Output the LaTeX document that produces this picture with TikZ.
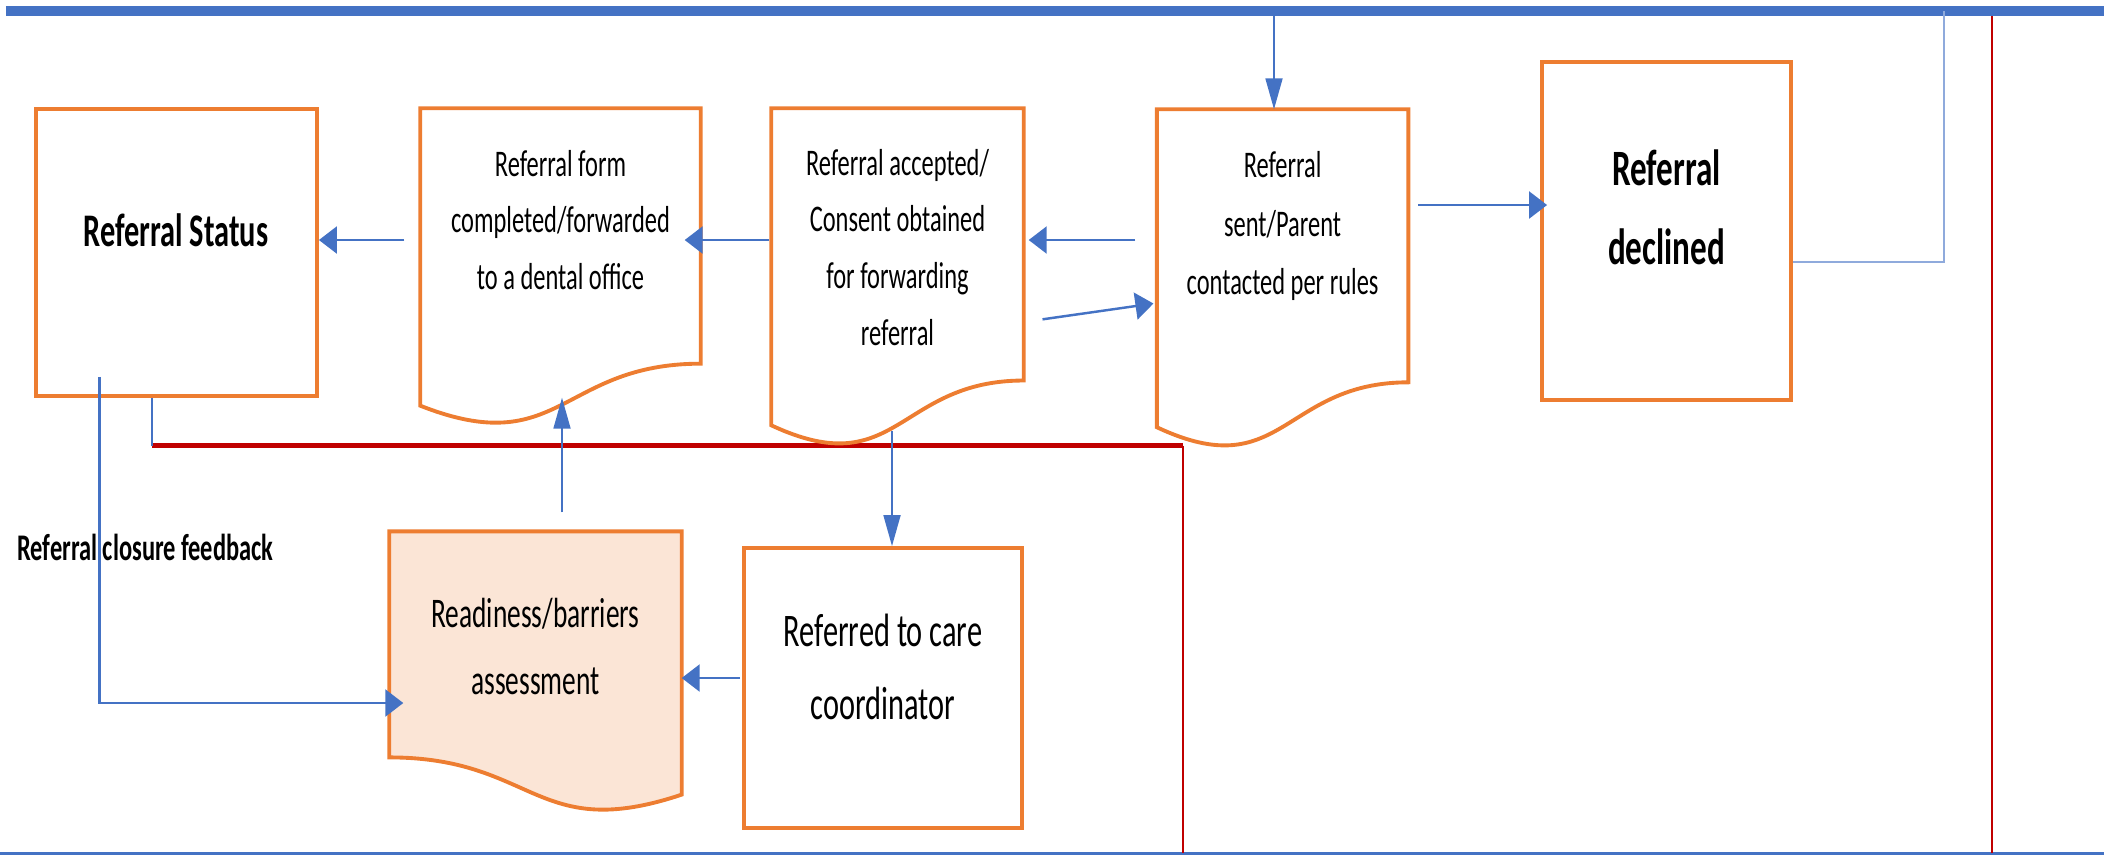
\documentclass[tikz,border=0pt]{standalone}
\usepackage{fontspec}
\setmainfont{Carlito}[FakeStretch=0.65]
\usepackage{tikz}
\usepackage{xcolor}
\usetikzlibrary{arrows.meta,calc}

\definecolor{boxorange}{HTML}{ED7D31}
\definecolor{boxpeach}{HTML}{FBE5D6}
\definecolor{flowblue}{HTML}{4472C4}
\definecolor{paleblue}{HTML}{8FAADC}
\definecolor{lanered}{HTML}{C00000}

\tikzset{
	boxrect/.style={draw=boxorange, line width=1.1pt, fill=white, inner sep=0pt},
	docarea/.style={inner sep=0pt},
	docline/.style={draw=boxorange, line width=1.1pt, fill=white},
	txt/.style={align=center, inner sep=0pt},
	flowh/.style={->, >={Triangle[length=0.18cm,width=0.27cm]}, draw=flowblue, line width=0.7pt},
	flowv/.style={->, >={Triangle[length=0.31cm,width=0.17cm]}, draw=flowblue, line width=0.5pt},
	connector/.style={draw=flowblue, line width=0.5pt},
	returnline/.style={draw=paleblue, line width=0.8pt},
	lanethick/.style={draw=lanered, line width=1.4pt},
	lanethin/.style={draw=lanered, line width=0.6pt}
}

\begin{document}
\begin{tikzpicture}
	\useasboundingbox (0,0) rectangle (21.04,-8.56);

	\coordinate (lanetop) at (0,-0.11);
	\coordinate (lanemid) at (11.83,-4.455);
	\coordinate (declout) at (19.44,-0.11);

	\draw[flowblue, line width=2.8pt] (0.06,-0.11) -- (21.04,-0.11);
	\draw[flowblue, line width=1pt] (0,-8.535) -- (21.04,-8.535);
	\draw[lanethick] (1.52,-4.455) -- (lanemid);
	\draw[lanethin] (lanemid) -- (11.83,-8.53);
	\draw[lanethin] (19.92,-0.16) -- (19.92,-8.53);

	\node[boxrect, minimum width=2.81cm, minimum height=2.87cm] (status) at (1.765,-2.525) {};
	\node[docarea, minimum width=2.79cm, minimum height=3.17cm] (form) at (5.605,-2.675) {};
	\node[docarea, minimum width=2.51cm, minimum height=3.38cm] (accept) at (8.975,-2.78) {};
	\node[docarea, minimum width=2.50cm, minimum height=3.39cm] (sent) at (12.826,-2.795) {};
	\node[boxrect, minimum width=2.49cm, minimum height=3.38cm] (declined) at (16.665,-2.31) {};
	\node[docarea, minimum width=2.91cm, minimum height=2.805cm] (ready) at (5.355,-6.7225) {};
	\node[boxrect, minimum width=2.78cm, minimum height=2.80cm] (care) at (8.83,-6.88) {};

	\foreach \n in {form,accept,sent}
	{
		\draw[docline] (\n.north west) -- (\n.north east)
			-- ($(\n.north east)!0.802!(\n.south east)$)
			.. controls ($(\n.north)!0.802!(\n.south)$) and ($(\n.north)!1.1075!(\n.south)$)
			.. ($(\n.north west)!0.934!(\n.south west)$) -- cycle;
	}
	\draw[docline, fill=boxpeach] (ready.north west) -- (ready.north east)
		-- ($(ready.north east)!0.934!(ready.south east)$)
		.. controls ($(ready.north)!1.1075!(ready.south)$) and ($(ready.north)!0.802!(ready.south)$)
		.. ($(ready.north west)!0.802!(ready.south west)$) -- cycle;

	\node[txt, font=\fontsize{13.3}{18}\selectfont\bfseries] (statustext) at (1.76,-2.30) {Referral Status};
	\node[txt, font=\fontsize{10.7}{16.2}\selectfont] (formtext) at (5.605,-2.20) {Referral form\\completed/forwarded\\to a dental office};
	\node[txt, font=\fontsize{10.7}{16.2}\selectfont] (accepttext) at (8.975,-2.475) {Referral accepted/\\Consent obtained\\for forwarding\\referral};
	\node[txt, font=\fontsize{10.7}{16.6}\selectfont] (senttext) at (12.826,-2.26) {Referral\\sent/Parent\\contacted per rules};
	\node[txt, font=\fontsize{14.5}{22.5}\selectfont\bfseries] (declinedtext) at (16.665,-2.075) {Referral\\declined};
	\node[txt, font=\fontsize{12}{19}\selectfont] (readytext) at (5.355,-6.465) {Readiness/barriers\\assessment};
	\node[txt, font=\fontsize{13.3}{20.8}\selectfont] (caretext) at (8.83,-6.665) {Referred to care\\coordinator};
	\node[txt, font=\fontsize{10.7}{14}\selectfont\bfseries] (feedback) at (1.455,-5.47) {Referral closure feedback};

	\coordinate (sentin) at ([xshift=-0.086cm]sent.north);
	\coordinate (acceptout) at ([xshift=-0.055cm,yshift=0.17cm]accept.south);
	\coordinate (readyout) at ([xshift=0.265cm,yshift=0.19cm]ready.north);
	\coordinate (formin) at ([yshift=0.29cm]form.south);
	\coordinate (statusout) at ([xshift=-0.77cm,yshift=0.21cm]status.south);
	\coordinate (readyin) at ([xshift=0.14cm,yshift=-0.3075cm]ready.west);
	\coordinate (statusdown) at ([xshift=-0.245cm]status.south);

	\draw[flowh, shorten <=0.16cm] (form.west |- 0,-2.40) -- (status.east |- 0,-2.40);
	\draw[flowh, shorten <=0.02cm, shorten >=-0.16cm] (accept.west |- 0,-2.40) -- (form.east |- 0,-2.40);
	\draw[flowh, shorten <=0.215cm, shorten >=0.05cm] (sent.west |- 0,-2.40) -- (accept.east |- 0,-2.40);
	\draw[flowh, shorten <=0.19cm, shorten >=0.035cm] (accept.east |- 0,-3.22) -- (sent.west |- 0,-3.03);
	\draw[flowh, shorten <=0.10cm, shorten >=-0.07cm] (sent.east |- 0,-2.05) -- (declined.west |- 0,-2.05);
	\draw[flowv] (sentin |- lanetop) -- (sentin);
	\draw[returnline] ([yshift=-0.31cm]declined.east) -| (declout);
	\draw[flowh, shorten <=0.02cm] (care.west |- 0,-6.78) -- (ready.east |- 0,-6.78);
	\draw[flowv] (acceptout) -- (acceptout |- care.north);
	\draw[flowv] (readyout) -- (readyout |- formin);
	\draw[flowh] (statusout) |- (readyin);
	\draw[connector] (statusdown) -- (statusdown |- lanemid);
\end{tikzpicture}
\end{document}
